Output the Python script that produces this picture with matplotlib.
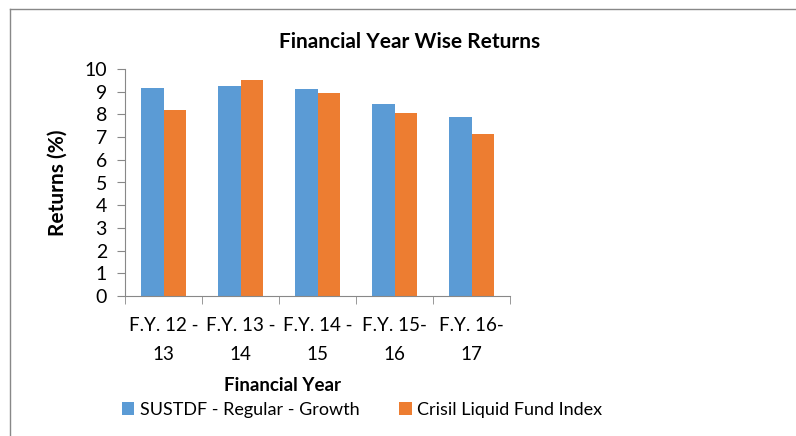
import numpy as np
import matplotlib
matplotlib.use("Agg")
import matplotlib.pyplot as plt
from matplotlib.lines import Line2D

years = ["F.Y. 12 -\n13", "F.Y. 13 -\n14", "F.Y. 14 -\n15", "F.Y. 15-\n16", "F.Y. 16-\n17"]
sustdf = [9.15, 9.25, 9.10, 8.47, 7.87]
crisil = [8.21, 9.50, 8.96, 8.07, 7.12]

plt.rcParams["font.family"] = ["Lato", "DejaVu Sans"]

fig = plt.figure(figsize=(7.96, 4.36), dpi=100)
ax = fig.add_axes([125 / 796, 1 - 296 / 436, 385 / 796, 227 / 436])

x = np.arange(len(years))
w = 0.29
b1 = ax.bar(x - w / 2, sustdf, w, color="#5b9bd5", label="SUSTDF - Regular - Growth")
b2 = ax.bar(x + w / 2, crisil, w, color="#ed7d31", label="Crisil Liquid Fund Index")

ax.set_xlim(-0.5, 4.5)
ax.set_ylim(0, 10)
ax.set_yticks(range(0, 11))
ax.set_xticks(x)
ax.set_xticklabels(years, fontsize=13.5, linespacing=1.85)
ax.tick_params(axis="x", length=0, pad=15)
ax.set_xticks(np.arange(-0.5, 5, 1), minor=True)
ax.tick_params(axis="x", which="minor", length=6, color="#888888")
ax.tick_params(axis="y", labelsize=14, length=6, color="#888888", pad=7)
for s in ["top", "right"]:
    ax.spines[s].set_visible(False)
for s in ["left", "bottom"]:
    ax.spines[s].set_color("#888888")

ax.set_ylabel("Returns (%)", fontsize=15, fontweight="bold", labelpad=12)
fig.text(283 / 796, 1 - 385 / 436, "Financial Year", fontsize=13.5, fontweight="bold",
         ha="center", va="center")
fig.text(410 / 796, 1 - 42 / 436, "Financial Year Wise Returns", fontsize=15,
         fontweight="bold", ha="center", va="center")

fig.legend(handles=[b1, b2], loc="center", bbox_to_anchor=(362 / 796, 1 - 410 / 436),
           ncol=2, frameon=False, fontsize=13, handlelength=0.7, handleheight=0.7,
           handletextpad=0.3, columnspacing=2.2)

fig.add_artist(Line2D([10 / 796, 10 / 796], [0, 1 - 9 / 436], transform=fig.transFigure,
                      color="#888888", lw=1))
fig.add_artist(Line2D([10 / 796, 1], [1 - 9 / 436, 1 - 9 / 436], transform=fig.transFigure,
                      color="#888888", lw=1))

fig.savefig("out.png", dpi=100)
